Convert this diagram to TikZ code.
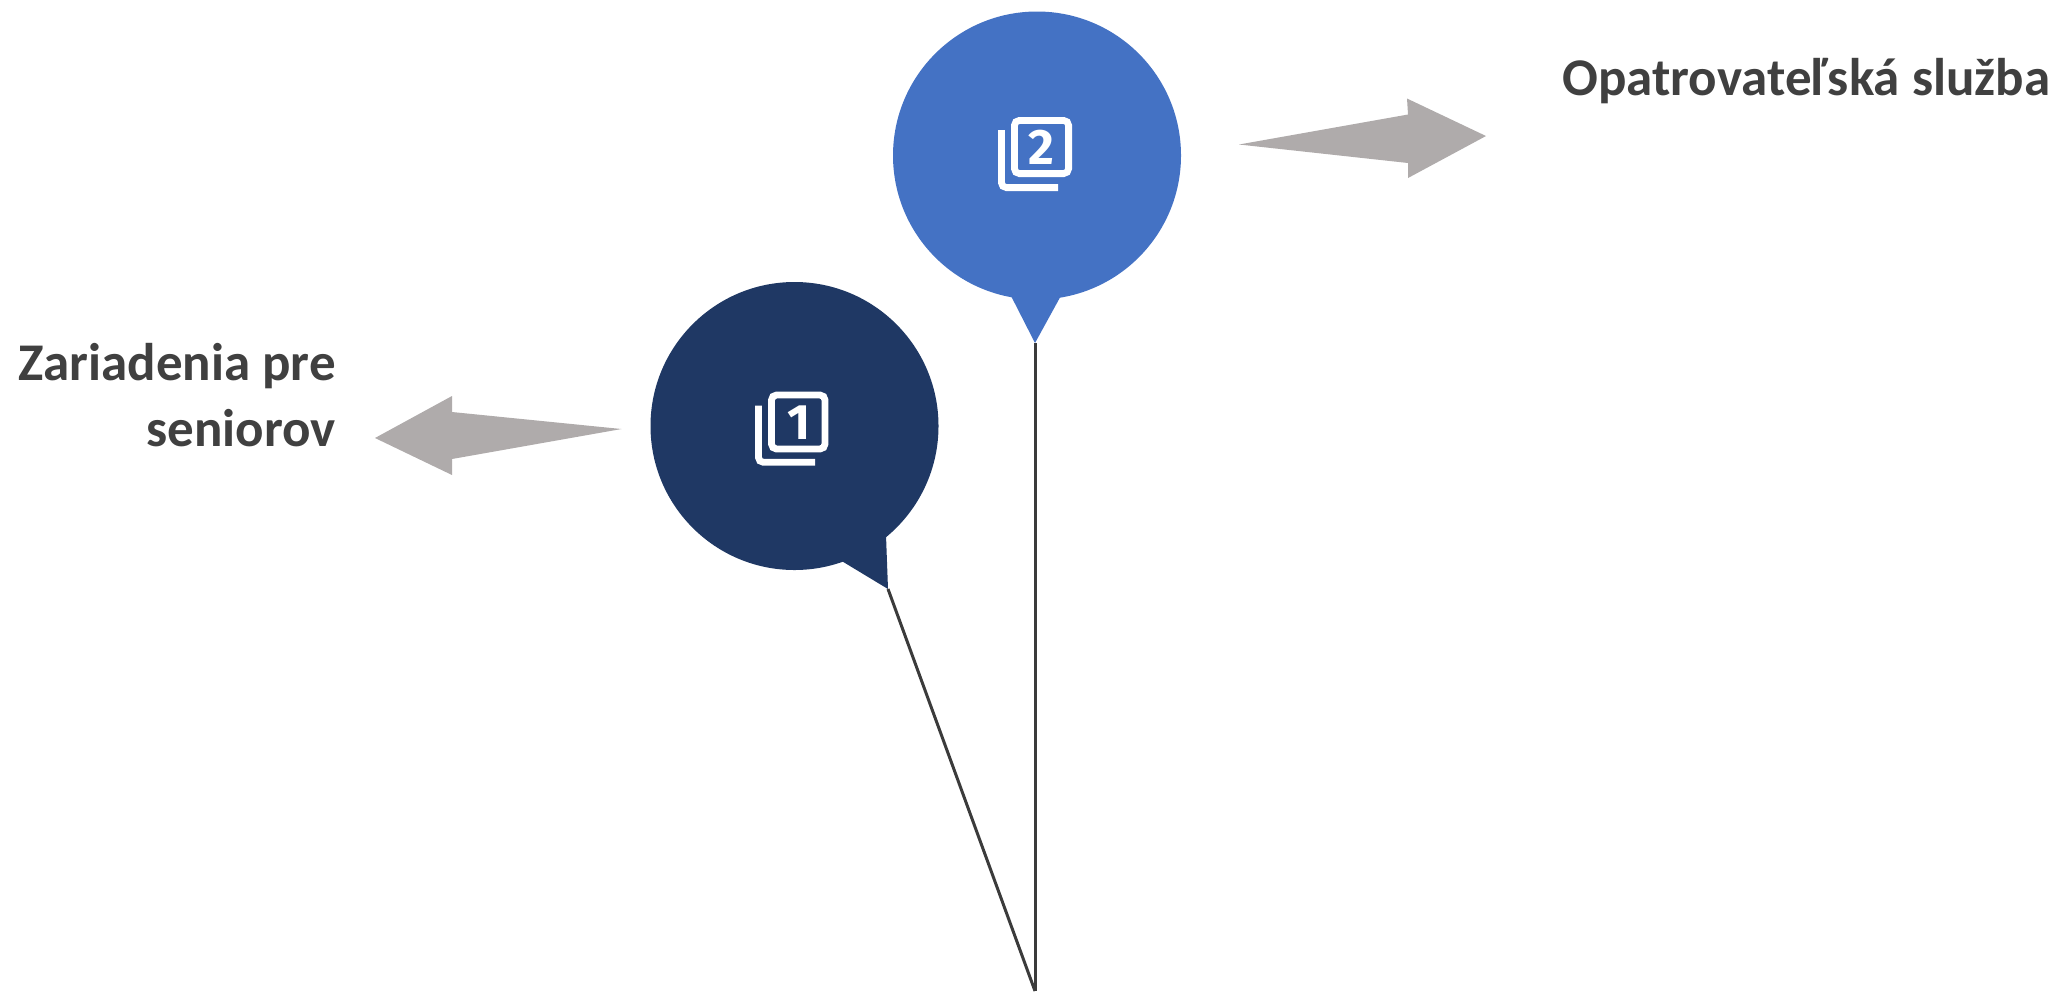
\documentclass[tikz,border=0pt]{standalone}
\usepackage{fontspec}
\setmainfont{Carlito}
\newfontfamily\digitfont{Fira Sans}
\definecolor{balloonblue}{HTML}{4472C4}
\definecolor{balloonnavy}{HTML}{1F3864}
\definecolor{arrowgrey}{HTML}{AFABAB}
\definecolor{stringgrey}{HTML}{3B3B3B}
\definecolor{labelgrey}{HTML}{404040}
\tikzset{
  balloon/.style={circle,inner sep=0pt,minimum size=144bp},
  bigarrow/.style={fill=arrowgrey,draw=none},
  balloonstring/.style={draw=stringgrey,line width=1.5bp},
  cardline/.style={draw=white,line width=3.4bp},
  carddigit/.style={text=white,inner sep=0pt,font=\digitfont\bfseries\fontsize{25}{25}\selectfont},
  caption/.style={text=labelgrey,inner sep=0pt,font=\bfseries\fontsize{26.6}{33}\selectfont},
}
\begin{document}
\begin{tikzpicture}[x=0.5bp,y=-0.5bp,line join=miter]
  \useasboundingbox (0,0) rectangle (2056,992);
  \coordinate (anchorpoint) at (1035,991);
  \coordinate (tipone) at (888,589);
  \coordinate (tiptwo) at (1035,343);
  % Edge: tipone -> anchorpoint
  \draw [balloonstring] (tipone) -- (anchorpoint);
  % Edge: tiptwo -> anchorpoint
  \draw [balloonstring] (tiptwo) -- (anchorpoint);
  % Node: balloon one
\begin{scope}
  \node [balloon,fill=balloonnavy] (ballone) at (794.5,426) {};
  \fill [balloonnavy] (840,560) -- (tipone) -- (885.8,530) -- cycle;
  \draw [cardline,rounded corners=2.5bp] (771.5,395) rectangle (825,449);
  \draw [cardline,rounded corners=2.5bp] (758.4,405.7) -- (758.4,462.3) -- (815,462.3);
  \node [carddigit] (digitone) at (799,422.5) {1};
\end{scope}
  % Node: balloon two
\begin{scope}
  \node [balloon,fill=balloonblue] (balltwo) at (1037,155.5) {};
  \fill [balloonblue] (1009,292) -- (tiptwo) -- (1063,292) -- cycle;
  \draw [cardline,rounded corners=2.5bp] (1014.4,120.4) rectangle (1068.6,173.6);
  \draw [cardline,rounded corners=2.5bp] (1001.4,130) -- (1001.4,187.6) -- (1058,187.6);
  \node [carddigit] (digittwo) at (1041.5,147) {2};
\end{scope}
  % Edge: left arrow
  \fill [bigarrow] (621.5,429) -- (452,412) -- (452,396) -- (375,438) -- (452,475) -- (452,459) -- cycle;
  % Edge: right arrow
  \fill [bigarrow] (1239,144.5) -- (1408,114.5) -- (1407,98.5) -- (1486,136) -- (1408,178) -- (1408,163) -- cycle;
  % Node: captions
  \node [caption,anchor=base west] (captiontwo) at (1562,95.5) {Opatrovateľská služba};
  \node [caption,anchor=base east,align=right] (captionone) at (336,446.5) {Zariadenia pre\\seniorov};
\end{tikzpicture}
\end{document}
